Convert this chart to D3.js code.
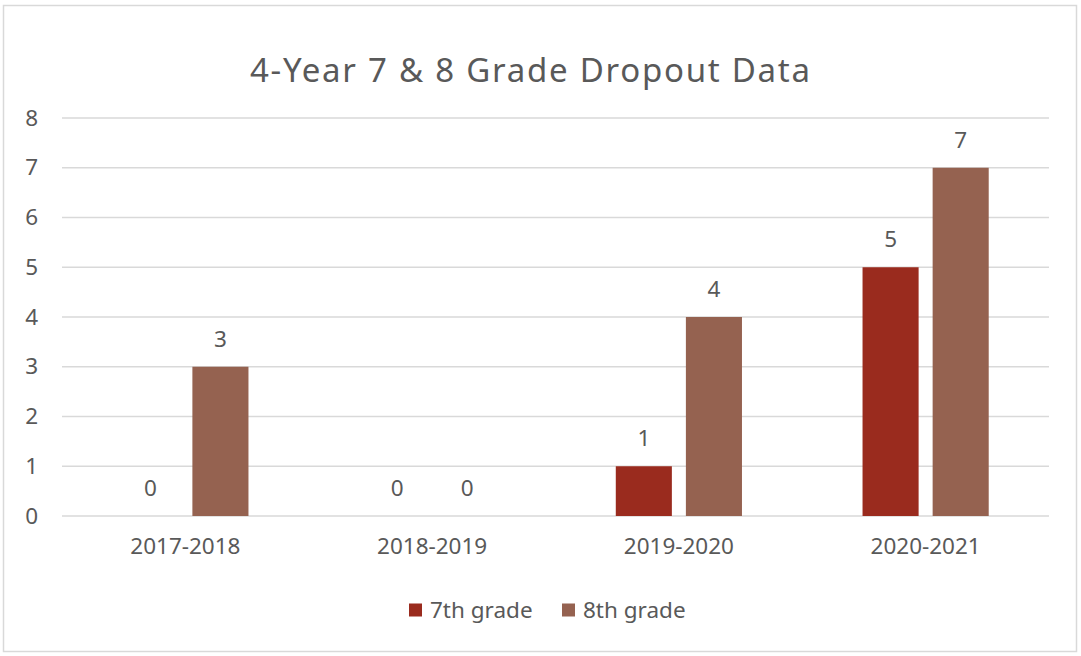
<!DOCTYPE html>
<html>
<head>
<meta charset="utf-8">
<script src="https://cdn.jsdelivr.net/npm/d3@7"></script>
<style>
  body { margin: 0; background: #fff; }
  text { font-family: "Noto Sans", "Open Sans", sans-serif; fill: #595959; }
</style>
</head>
<body>
<script>
const years = ["2017-2018", "2018-2019", "2019-2020", "2020-2021"];
const seriesNames = ["7th grade", "8th grade"];
const grade7 = [0, 0, 1, 5];
const grade8 = [3, 0, 4, 7];
const yTicks = [0, 1, 2, 3, 4, 5, 6, 7, 8];
const colors = ["#9a2b1e", "#956250"];

const W = 1081, H = 656;
const margin = { top: 118, right: 32, bottom: 140, left: 62 };
const fs = 22.5;

const svg = d3.select("body").append("svg")
  .attr("width", W)
  .attr("height", H);

// chart frame
svg.append("rect")
  .attr("x", 3.5).attr("y", 5.5)
  .attr("width", 1073).attr("height", 646)
  .attr("fill", "#fff")
  .attr("stroke", "#d9d9d9")
  .attr("stroke-width", 1.5);

const x = d3.scaleBand()
  .domain(years)
  .range([margin.left, W - margin.right]);

const x1 = d3.scaleBand()
  .domain(seriesNames)
  .range([0, x.bandwidth()])
  .paddingInner(0.2)
  .paddingOuter(0.86);

const y = d3.scaleLinear()
  .domain([0, 8])
  .range([H - margin.bottom, margin.top]);

// gridlines
svg.append("g")
  .selectAll("line")
  .data(yTicks)
  .join("line")
  .attr("x1", margin.left)
  .attr("x2", W - margin.right)
  .attr("y1", d => y(d))
  .attr("y2", d => y(d))
  .attr("stroke", "#d9d9d9")
  .attr("stroke-width", 1.5);

// y axis labels
svg.append("g")
  .attr("transform", `translate(${margin.left - 24},0)`)
  .call(d3.axisLeft(y).tickValues(yTicks).tickSize(0).tickPadding(0))
  .call(g => g.select(".domain").remove())
  .call(g => g.selectAll("text")
    .attr("font-size", fs)
    .attr("fill", "#595959")
    .attr("font-family", "'Noto Sans', sans-serif"));

// x axis labels
svg.append("g")
  .attr("transform", `translate(0,${H - margin.bottom})`)
  .call(d3.axisBottom(x).tickSize(0).tickPadding(22))
  .call(g => g.select(".domain").remove())
  .call(g => g.selectAll("text")
    .attr("font-size", fs)
    .attr("fill", "#595959")
    .attr("font-family", "'Noto Sans', sans-serif"));

const rows = years.map((yr, i) => ({ year: yr, values: [grade7[i], grade8[i]] }));

const groups = svg.append("g")
  .selectAll("g")
  .data(rows)
  .join("g")
  .attr("transform", d => `translate(${x(d.year)},0)`);

groups.selectAll("rect")
  .data(d => d.values.map((v, j) => ({ key: seriesNames[j], value: v, j })))
  .join("rect")
  .attr("x", d => x1(d.key))
  .attr("y", d => y(d.value))
  .attr("width", x1.bandwidth())
  .attr("height", d => y(0) - y(d.value))
  .attr("fill", d => colors[d.j]);

groups.selectAll("text")
  .data(d => d.values.map((v, j) => ({ key: seriesNames[j], value: v })))
  .join("text")
  .attr("x", d => x1(d.key) + x1.bandwidth() / 2)
  .attr("y", d => y(d.value) - 20)
  .attr("text-anchor", "middle")
  .attr("font-size", fs)
  .text(d => d.value);

// title
svg.append("text")
  .attr("x", 530)
  .attr("y", 82)
  .attr("text-anchor", "middle")
  .attr("font-size", 33)
  .attr("textLength", 560)
  .attr("lengthAdjust", "spacing")
  .text("4-Year 7 & 8 Grade Dropout Data");

// legend
const legend = svg.append("g")
  .attr("transform", "translate(409,610)");
const legendX = [0, 153];
seriesNames.forEach((name, i) => {
  legend.append("rect")
    .attr("x", legendX[i])
    .attr("y", -6.5)
    .attr("width", 13)
    .attr("height", 13)
    .attr("fill", colors[i]);
  legend.append("text")
    .attr("x", legendX[i] + 21)
    .attr("y", 0)
    .attr("dy", "0.35em")
    .attr("font-size", fs)
    .text(name);
});
</script>
</body>
</html>
